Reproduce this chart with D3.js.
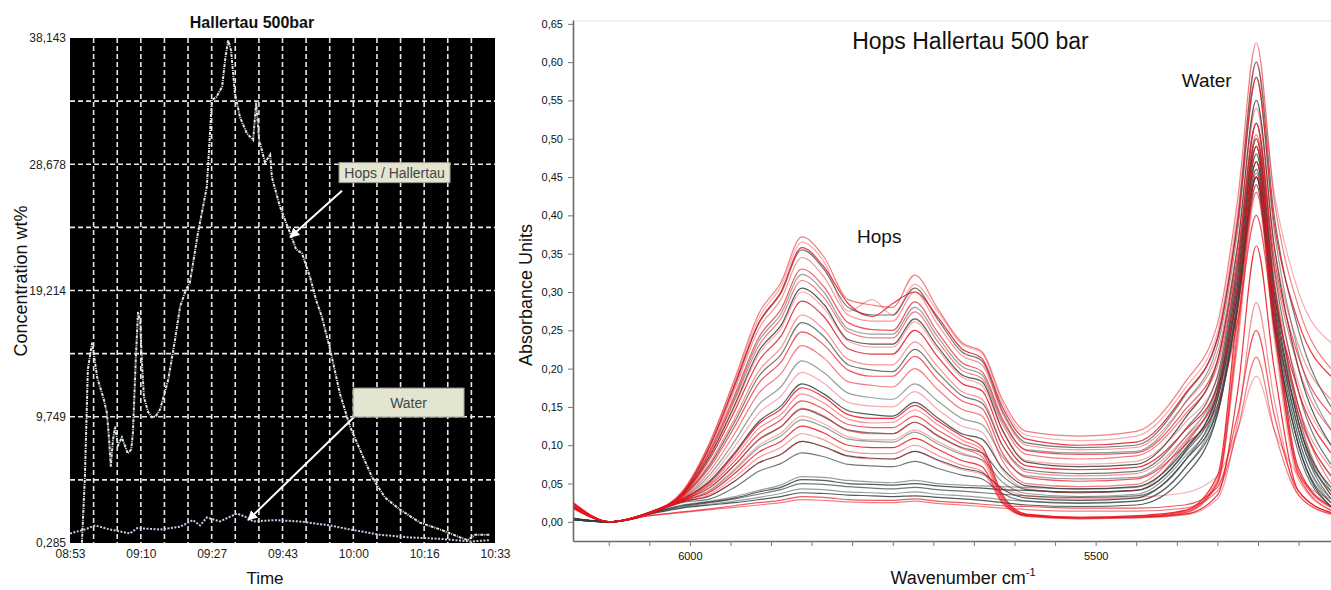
<!DOCTYPE html>
<html>
<head>
<meta charset="utf-8">
<script src="https://cdn.jsdelivr.net/npm/d3@7"></script>
<style>
  body { margin: 0; background: #fff; }
  svg text { font-family: "Liberation Sans", Arial, sans-serif; }
</style>
</head>
<body>
<div id="chart"></div>
<script>
// left panel: concentration trace, minutes after 08:53
var hopsMinutes = [2.8,3.5,4.2,5.2,6.4,8.0,8.7,9.2,9.6,10.1,10.6,11.3,12.2,13.6,14.4,14.8,15.5,16.0,16.5,16.9,17.4,18.4,19.3,20.2,21.2,23.1,24.7,25.9,27.3,28.2,30.1,32.2,33.4,34.4,35.8,36.5,37.2,37.9,38.8,40.0,41.6,43.1,43.8,44.5,45.9,47.1,47.5,49.4,51.8,53.2,54.6,56.5,57.9,59.3,61.2,63.5,65.9,68.2,71.1,74.1,77.6,82.4,87.1,91.8,93.6,95.3,98.8];
var hopsConc = [0.3,5.2,13.3,15.3,12.7,11.0,10.0,8.0,6.0,8.0,9.0,7.6,8.2,7.0,7.3,8.5,14.2,17.6,17.0,14.0,11.2,10.1,9.7,9.8,10.3,12.5,15.5,18.0,19.3,19.8,23.5,27.0,33.5,33.7,34.5,36.5,38.0,37.2,34.0,32.2,31.0,30.5,33.3,30.5,28.8,29.4,27.7,25.5,23.5,22.3,22.0,20.2,18.5,17.2,14.8,11.5,9.0,7.3,5.2,3.7,2.8,1.8,1.3,0.7,0.5,0.9,0.9];
var waterMinutes = [0,3.5,5.9,9.4,14.1,15.8,21.2,25.9,28.9,30.6,32.2,35.3,39.3,41.6,43.1,48.2,54.1,61.2,65.9,72.9,80.0,87.1,94.1,98.8];
var waterConc = [1.0,1.3,1.6,1.3,1.0,1.4,1.3,1.5,2.0,1.6,2.2,1.9,2.5,2.2,1.9,2.0,1.9,1.6,1.3,0.9,0.7,0.6,0.4,0.5];
var concTicks = [0.285, 9.749, 19.214, 28.678, 38.143];
var concTickLabels = ["0,285", "9,749", "19,214", "28,678", "38,143"];
var timeTickLabels = ["08:53", "09:10", "09:27", "09:43", "10:00", "10:16", "10:33"];
// callouts: [label, box minute, box conc, arrow-from minute, conc, arrow-to minute, conc]
var callouts = [
  ["Hops / Hallertau", 63.3, 28.8, 64.0, 26.7, 51.8, 23.2],
  ["Water", 66.6, 11.9, 66.6, 9.66, 41.9, 2.0]
];

// right panel: NIR spectra
var wavenumbers = [6144,6098,6050,6010,5975,5945,5915,5888,5862,5835,5805,5775,5750,5723,5695,5665,5640,5615,5585,5520,5450,5390,5350,5325,5302,5280,5250,5210];
var redSpectra = [
  [.022,0,.012,.039,.105,.186,.272,.312,.372,.346,.29,.283,.28,.322,.279,.234,.222,.16,.118,.112,.118,.182,.258,.421,.625,.421,.28,.20],
  [.026,0,.013,.038,.104,.183,.266,.307,.365,.34,.275,.29,.27,.31,.275,.232,.22,.155,.113,.106,.112,.174,.247,.404,.60,.43,.30,.234],
  [.018,0,.011,.037,.10,.179,.26,.30,.358,.333,.285,.268,.285,.30,.268,.226,.213,.15,.108,.10,.104,.167,.238,.39,.58,.39,.26,.19],
  [.02,0,.012,.036,.098,.172,.252,.29,.345,.32,.27,.262,.262,.30,.258,.217,.205,.142,.10,.094,.097,.155,.22,.363,.54,.36,.23,.16],
  [.024,0,.012,.035,.094,.165,.241,.277,.33,.307,.26,.251,.25,.287,.248,.208,.196,.135,.093,.088,.09,.146,.21,.348,.52,.345,.215,.14],
  [.018,0,.011,.034,.09,.158,.23,.265,.315,.293,.248,.24,.24,.274,.236,.198,.187,.128,.088,.082,.086,.14,.203,.337,.505,.335,.20,.12],
  [.022,0,.012,.035,.086,.15,.219,.252,.30,.279,.236,.228,.228,.261,.225,.189,.178,.12,.08,.075,.079,.129,.188,.313,.47,.31,.18,.10],
  [.02,0,.012,.034,.083,.144,.21,.242,.288,.268,.226,.219,.219,.25,.216,.181,.171,.11,.073,.068,.071,.119,.176,.298,.45,.295,.17,.09],
  [.025,0,.012,.033,.078,.135,.197,.227,.27,.251,.212,.205,.205,.235,.203,.17,.16,.10,.065,.06,.063,.11,.165,.283,.43,.28,.15,.07],
  [.018,0,.011,.032,.072,.124,.181,.208,.248,.231,.198,.19,.19,.216,.186,.158,.148,.09,.058,.053,.056,.10,.152,.262,.40,.26,.14,.06],
  [.02,0,.012,.031,.067,.115,.168,.193,.23,.214,.183,.178,.176,.20,.173,.147,.138,.08,.05,.046,.049,.105,.17,.311,.50,.31,.15,.05],
  [.02,0,.012,.03,.058,.098,.142,.164,.195,.181,.156,.151,.15,.17,.147,.125,.117,.068,.043,.038,.041,.102,.174,.328,.52,.32,.14,.035],
  [.024,0,.012,.029,.052,.088,.128,.147,.175,.163,.14,.135,.135,.152,.132,.112,.098,.036,.01,.006,.008,.015,.06,.28,.49,.28,.07,.02],
  [.02,0,.011,.029,.05,.084,.122,.14,.167,.155,.134,.129,.13,.146,.127,.107,.094,.034,.009,.005,.007,.013,.055,.265,.47,.27,.065,.018],
  [.022,0,.012,.028,.048,.079,.115,.133,.158,.147,.127,.123,.123,.138,.12,.102,.09,.032,.008,.005,.006,.012,.05,.25,.455,.26,.06,.015],
  [.018,0,.011,.028,.045,.074,.108,.124,.148,.138,.119,.115,.115,.13,.112,.096,.085,.03,.009,.006,.007,.014,.052,.24,.44,.25,.065,.02],
  [.025,0,.012,.027,.042,.069,.10,.116,.138,.128,.111,.107,.107,.12,.105,.09,.08,.028,.007,.004,.005,.011,.048,.23,.43,.24,.055,.015],
  [.02,0,.011,.027,.039,.063,.091,.105,.125,.116,.10,.097,.097,.109,.095,.08,.072,.026,.008,.005,.006,.01,.035,.17,.36,.20,.04,.012],
  [.022,0,.012,.026,.036,.058,.084,.097,.115,.107,.092,.089,.089,.10,.087,.074,.066,.024,.007,.004,.005,.009,.03,.13,.286,.16,.035,.01],
  [.025,0,.008,.013,.017,.021,.025,.028,.033,.032,.029,.028,.028,.03,.027,.025,.023,.021,.02,.018,.018,.022,.045,.14,.25,.14,.04,.012],
  [.02,0,.008,.012,.016,.019,.022,.025,.029,.028,.026,.025,.025,.027,.024,.022,.02,.018,.016,.014,.014,.018,.04,.12,.215,.12,.035,.01],
  [.02,0,.011,.026,.034,.053,.077,.088,.105,.098,.085,.082,.082,.092,.08,.068,.062,.045,.034,.03,.032,.038,.06,.12,.19,.12,.06,.03]
];
var greySpectra = [
  [.004,0,.011,.036,.10,.177,.259,.298,.355,.33,.28,.27,.27,.305,.265,.222,.21,.145,.103,.097,.10,.165,.24,.395,.60,.40,.25,.15],
  [.003,0,.011,.035,.092,.161,.236,.271,.323,.30,.252,.245,.245,.28,.242,.203,.192,.132,.094,.09,.092,.155,.23,.38,.58,.38,.22,.12],
  [.005,0,.012,.035,.087,.152,.223,.256,.305,.284,.238,.232,.232,.265,.229,.192,.183,.12,.078,.072,.075,.135,.21,.36,.55,.36,.20,.10],
  [.003,0,.011,.033,.075,.13,.19,.218,.26,.242,.205,.198,.196,.225,.195,.165,.155,.10,.068,.063,.066,.12,.19,.34,.52,.33,.17,.075],
  [.004,0,.012,.03,.062,.105,.153,.176,.21,.195,.168,.162,.16,.18,.158,.135,.127,.085,.06,.056,.058,.11,.18,.33,.50,.31,.15,.06],
  [.004,0,.011,.029,.054,.09,.131,.151,.18,.167,.145,.14,.138,.156,.136,.115,.108,.07,.047,.043,.046,.095,.165,.31,.48,.29,.13,.045],
  [.003,0,.012,.028,.045,.074,.107,.124,.147,.137,.12,.116,.115,.13,.113,.097,.09,.06,.042,.038,.041,.09,.16,.30,.47,.28,.12,.04],
  [.005,0,.011,.027,.041,.067,.097,.112,.133,.124,.108,.105,.104,.117,.102,.088,.081,.052,.037,.033,.036,.085,.15,.29,.46,.27,.11,.03],
  [.003,0,.011,.026,.034,.053,.077,.088,.105,.098,.086,.083,.082,.092,.081,.07,.064,.043,.031,.028,.031,.08,.145,.285,.45,.26,.10,.025],
  [.004,0,.011,.025,.03,.045,.066,.076,.09,.085,.075,.073,.072,.079,.07,.061,.056,.037,.027,.024,.027,.07,.14,.28,.44,.25,.09,.02],
  [.003,0,.011,.022,.027,.033,.041,.048,.059,.058,.054,.052,.051,.054,.05,.048,.047,.046,.045,.043,.045,.10,.18,.33,.50,.31,.14,.04],
  [.004,0,.011,.021,.026,.031,.039,.045,.055,.054,.05,.049,.048,.05,.047,.045,.044,.042,.041,.039,.041,.092,.17,.32,.49,.30,.13,.035],
  [.003,0,.011,.02,.025,.03,.036,.042,.05,.049,.046,.044,.043,.045,.042,.04,.038,.036,.034,.032,.034,.08,.16,.30,.47,.28,.12,.03],
  [.004,0,.01,.019,.023,.027,.032,.037,.043,.042,.039,.038,.037,.039,.036,.034,.032,.029,.027,.025,.027,.07,.15,.29,.46,.27,.11,.025],
  [.003,0,.01,.018,.022,.025,.029,.033,.038,.037,.035,.034,.033,.034,.032,.03,.028,.025,.022,.02,.022,.06,.14,.28,.45,.26,.10,.02]
];
var absTicks = [0,0.05,0.10,0.15,0.20,0.25,0.30,0.35,0.40,0.45,0.50,0.55,0.60,0.65];
var absTickLabels = ["0,00","0,05","0,10","0,15","0,20","0,25","0,30","0,35","0,40","0,45","0,50","0,55","0,60","0,65"];
var wnLabelled = [6000, 5500];

function init() {
  var svg = d3.select("#chart").append("svg")
              .attr("width", 1331)
              .attr("height", 590);

  // ---------- left panel ----------
  var start = new Date(2000, 0, 1, 8, 53);
  var end = new Date(2000, 0, 1, 10, 33);
  function toDate(m) { return new Date(start.getTime() + m * 60000); }

  var xTime = d3.scaleTime().domain([start, end]).range([70, 495]);
  var yConc = d3.scaleLinear().domain([0.285, 38.143]).range([543, 38]);

  var left = svg.append("g");
  left.append("rect")
    .attr("x", 70).attr("y", 38)
    .attr("width", 425).attr("height", 505)
    .attr("fill", "#000");

  // dashed grid, 3 columns per time label, 2 rows per conc label
  left.selectAll(".vgrid")
    .data(d3.range(1, 18))
    .enter().append("line")
    .attr("x1", function(k) { return xTime(toDate(k * 100 / 18)); })
    .attr("x2", function(k) { return xTime(toDate(k * 100 / 18)); })
    .attr("y1", 38).attr("y2", 543)
    .style("stroke", "#e6e6e6")
    .style("stroke-width", 1.6)
    .style("stroke-dasharray", "5,3");

  left.selectAll(".hgrid")
    .data(d3.range(1, 8))
    .enter().append("line")
    .attr("x1", 70).attr("x2", 495)
    .attr("y1", function(k) { return yConc(0.285 + k * (38.143 - 0.285) / 8); })
    .attr("y2", function(k) { return yConc(0.285 + k * (38.143 - 0.285) / 8); })
    .style("stroke", "#e6e6e6")
    .style("stroke-width", 1.6)
    .style("stroke-dasharray", "5,3");

  left.append("clipPath").attr("id", "clipL")
    .append("rect").attr("x", 70).attr("y", 38).attr("width", 425).attr("height", 505);

  var concLine = d3.line()
                   .x(function(d) { return xTime(toDate(d[0])); })
                   .y(function(d) { return yConc(d[1]); });

  left.append("path")
    .datum(waterMinutes.map(function(m, i) { return [m, waterConc[i]]; }))
    .attr("clip-path", "url(#clipL)")
    .attr("d", concLine)
    .style("fill", "none")
    .style("stroke", "#c9cdea")
    .style("stroke-width", 2)
    .style("stroke-dasharray", "2,1.5");

  left.append("path")
    .datum(hopsMinutes.map(function(m, i) { return [m, hopsConc[i]]; }))
    .attr("clip-path", "url(#clipL)")
    .attr("d", concLine)
    .style("fill", "none")
    .style("stroke", "#dfe8df")
    .style("stroke-width", 2)
    .style("stroke-dasharray", "3,1,1,1");

  var yAxisL = d3.axisLeft(yConc).tickValues(concTicks)
                 .tickFormat(function(d, i) { return concTickLabels[i]; })
                 .tickSize(0).tickPadding(4);
  var gy = left.append("g").attr("transform", "translate(70,0)").call(yAxisL);
  gy.select(".domain").remove();
  gy.selectAll("text").style("font-size", "12px").style("fill", "#222")
    .style("font-family", "'Liberation Sans', Arial, sans-serif");

  var xAxisL = d3.axisBottom(xTime)
                 .tickValues(d3.range(7).map(function(i) { return toDate(i * 100 / 6); }))
                 .tickFormat(function(d, i) { return timeTickLabels[i]; })
                 .tickSize(0).tickPadding(6);
  var gx = left.append("g").attr("transform", "translate(0,543)").call(xAxisL);
  gx.select(".domain").remove();
  gx.selectAll("text").style("font-size", "12px").style("fill", "#222")
    .style("font-family", "'Liberation Sans', Arial, sans-serif");

  // callout boxes and arrows
  var defs = svg.append("defs");
  defs.append("marker").attr("id", "arrowW")
    .attr("viewBox", "0 0 10 10").attr("refX", 9).attr("refY", 5)
    .attr("markerWidth", 5).attr("markerHeight", 5).attr("orient", "auto")
    .append("path").attr("d", "M0,0L10,5L0,10z").attr("fill", "#fff");

  callouts.forEach(function(c, i) {
    var bx = xTime(toDate(c[1])), by = yConc(c[2]);
    var bh = i === 0 ? 20 : 29;
    left.append("line")
      .attr("x1", xTime(toDate(c[3]))).attr("y1", yConc(c[4]))
      .attr("x2", xTime(toDate(c[5]))).attr("y2", yConc(c[6]))
      .style("stroke", "#fff").style("stroke-width", 2)
      .attr("marker-end", "url(#arrowW)");
    left.append("rect")
      .attr("x", bx).attr("y", by).attr("width", 111).attr("height", bh)
      .attr("fill", "#e3e5d1").attr("stroke", "#9a9a90").attr("stroke-width", 1);
    left.append("text")
      .attr("x", bx + 55.5).attr("y", by + bh / 2 + 5)
      .attr("text-anchor", "middle")
      .style("font-size", "14px").style("fill", "#444")
      .text(c[0]);
  });

  left.append("text").attr("x", 252).attr("y", 28).attr("text-anchor", "middle")
    .style("font-size", "16px").style("font-weight", "bold").style("fill", "#111")
    .text("Hallertau 500bar");
  left.append("text").attr("x", 265).attr("y", 584).attr("text-anchor", "middle")
    .style("font-size", "17px").style("fill", "#111").text("Time");
  left.append("text").attr("transform", "translate(27,281) rotate(-90)")
    .attr("text-anchor", "middle")
    .style("font-size", "18px").style("fill", "#111").text("Concentration wt%");

  // ---------- right panel ----------
  var xWn = d3.scaleLinear().domain([6144, 5210]).range([573, 1331]);
  var yAbs = d3.scaleLinear().domain([-0.025, 0.655]).range([541, 20]);
  var right = svg.append("g");

  right.append("line").attr("x1", 573).attr("x2", 1331).attr("y1", 21).attr("y2", 21)
    .style("stroke", "#e6e6e6").style("stroke-width", 1);

  right.append("clipPath").attr("id", "clipR")
    .append("rect").attr("x", 573).attr("y", 20).attr("width", 758).attr("height", 521);

  var specLine = d3.line()
                   .x(function(d, i) { return xWn(wavenumbers[i]); })
                   .y(function(d) { return yAbs(d); })
                   .curve(d3.curveMonotoneX);

  var redOp = [0.55, 0.35, 0.85, 0.45, 0.7];
  var greyOp = [0.7, 0.5, 0.85];
  var gLines = right.append("g").attr("clip-path", "url(#clipR)");
  var n = Math.max(redSpectra.length, greySpectra.length);
  for (var i = 0; i < n; i++) {
    if (i < greySpectra.length) {
      gLines.append("path").datum(greySpectra[i]).attr("d", specLine)
        .style("fill", "none").style("stroke", "#34403f")
        .style("stroke-opacity", greyOp[i % greyOp.length]).style("stroke-width", 1.2);
    }
    if (i < redSpectra.length) {
      gLines.append("path").datum(redSpectra[i]).attr("d", specLine)
        .style("fill", "none").style("stroke", "#e8141c")
        .style("stroke-opacity", redOp[i % redOp.length]).style("stroke-width", 1.2);
    }
  }

  var yAxisR = d3.axisLeft(yAbs).tickValues(absTicks)
                 .tickFormat(function(d, i) { return absTickLabels[i]; })
                 .tickSize(5).tickSizeOuter(0).tickPadding(5);
  var gyr = right.append("g").attr("transform", "translate(573,0)").call(yAxisR);
  gyr.select(".domain").style("stroke", "#6a6a6a").style("stroke-width", 1.6);
  gyr.selectAll(".tick line").style("stroke", "#777");
  gyr.selectAll("text").style("font-size", "11px").style("fill", "#111")
    .style("font-family", "'Liberation Sans', Arial, sans-serif");

  var xAxisR = d3.axisBottom(xWn).tickValues(d3.range(6100, 5200, -50))
                 .tickFormat(function(d) { return wnLabelled.indexOf(d) >= 0 ? d : ""; })
                 .tickSize(5).tickSizeOuter(0).tickPadding(6);
  var gxr = right.append("g").attr("transform", "translate(0,541)").call(xAxisR);
  gxr.select(".domain").style("stroke", "#6a6a6a").style("stroke-width", 1.6);
  gxr.selectAll(".tick line").style("stroke", "#777");
  gxr.selectAll("text").style("font-size", "11px").style("fill", "#111")
    .style("font-family", "'Liberation Sans', Arial, sans-serif");

  right.append("text").attr("x", xWn(5800)).attr("y", yAbs(0.617))
    .style("font-size", "23px").style("fill", "#111").text("Hops Hallertau 500 bar");
  right.append("text").attr("x", xWn(5794)).attr("y", yAbs(0.364))
    .style("font-size", "19px").style("fill", "#111").text("Hops");
  right.append("text").attr("x", xWn(5394)).attr("y", yAbs(0.568))
    .style("font-size", "19px").style("fill", "#111").text("Water");

  right.append("text").attr("transform", "translate(532,295) rotate(-90)")
    .attr("text-anchor", "middle")
    .style("font-size", "18px").style("fill", "#111").text("Absorbance Units");

  var wl = right.append("text").attr("x", 963).attr("y", 584)
    .attr("text-anchor", "middle")
    .style("font-size", "18px").style("fill", "#111");
  wl.append("tspan").text("Wavenumber cm");
  wl.append("tspan").attr("dy", -8).style("font-size", "11px").text("-1");
}

window.onload = init;
</script>
</body>
</html>
